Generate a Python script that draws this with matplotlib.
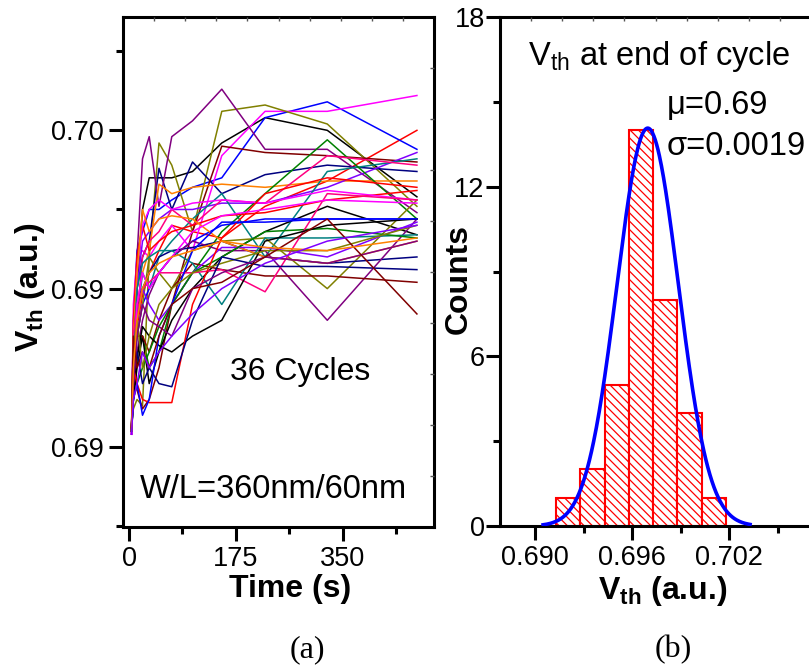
import numpy as np
import matplotlib.pyplot as plt

plt.rcParams['font.family'] = 'Liberation Sans'
plt.rcParams['mathtext.fontset'] = 'custom'
plt.rcParams['mathtext.rm'] = 'Liberation Sans'
plt.rcParams['mathtext.it'] = 'Liberation Sans:italic'
plt.rcParams['mathtext.bf'] = 'Liberation Sans:bold'
plt.rcParams['hatch.linewidth'] = 0.9

# (a) Vth vs time, 36 cycles
time_s = [4, 7, 13, 22, 33, 49, 70, 104, 152, 223, 325, 472]
vth = [
    [0.6906, 0.6920, 0.6950, 0.6975, 0.6985, 0.6985, 0.6985, 0.6987, 0.6996, 0.7004, 0.7000, 0.6979],
    [0.6905, 0.6925, 0.6938, 0.6948, 0.6955, 0.6962, 0.6970, 0.6968, 0.6966, 0.6976, 0.6984, 0.7000],
    [0.6904, 0.6940, 0.6962, 0.6968, 0.6975, 0.6975, 0.6978, 0.6982, 0.6985, 0.7004, 0.7009, 0.6994],
    [0.6904, 0.6945, 0.6960, 0.6962, 0.6960, 0.6965, 0.6970, 0.6962, 0.6992, 0.7006, 0.7006, 0.7011],
    [0.6906, 0.6912, 0.6915, 0.6913, 0.6960, 0.6996, 0.6989, 0.6968, 0.7006, 0.7008, 0.7002, 0.6976],
    [0.6905, 0.6935, 0.6950, 0.6960, 0.6965, 0.6988, 0.6975, 0.6990, 0.6980, 0.6986, 0.6989, 0.6987],
    [0.6905, 0.6925, 0.6960, 0.6991, 0.6998, 0.6976, 0.6998, 0.7003, 0.7013, 0.6994, 0.6994, 0.6974],
    [0.6906, 0.6930, 0.6918, 0.6912, 0.6915, 0.6925, 0.6945, 0.6968, 0.6995, 0.6993, 0.6992, 0.6990],
    [0.6905, 0.6925, 0.6945, 0.6955, 0.6962, 0.6983, 0.6980, 0.6982, 0.6983, 0.6982, 0.6984, 0.6984],
    [0.6905, 0.6930, 0.6950, 0.6965, 0.6968, 0.6972, 0.6975, 0.6975, 0.6977, 0.6977, 0.6982, 0.6993],
    [0.6906, 0.6935, 0.6940, 0.6955, 0.6950, 0.6960, 0.6965, 0.6972, 0.6980, 0.6960, 0.6987, 0.6991],
    [0.6905, 0.6915, 0.6930, 0.6935, 0.6925, 0.6930, 0.6945, 0.6955, 0.6968, 0.6980, 0.6997, 0.6972],
    [0.6904, 0.6925, 0.6940, 0.6960, 0.6965, 0.6968, 0.6975, 0.6970, 0.6978, 0.6977, 0.6992, 0.6989],
    [0.6905, 0.6915, 0.6925, 0.6935, 0.6920, 0.6930, 0.6940, 0.6950, 0.6960, 0.6968, 0.6976, 0.6967],
    [0.6906, 0.6940, 0.6960, 0.6970, 0.6962, 0.6965, 0.6968, 0.6970, 0.6973, 0.6974, 0.6978, 0.6981],
    [0.6905, 0.6920, 0.6935, 0.6945, 0.6950, 0.6955, 0.6960, 0.6965, 0.6970, 0.6972, 0.6972, 0.6972],
    [0.6904, 0.6930, 0.6955, 0.6970, 0.6975, 0.6978, 0.6975, 0.6977, 0.6978, 0.6977, 0.6981, 0.6978],
    [0.6906, 0.6925, 0.6935, 0.6945, 0.6960, 0.6955, 0.6950, 0.6962, 0.6965, 0.6966, 0.6950, 0.6978],
    [0.6905, 0.6930, 0.6945, 0.6950, 0.6955, 0.6960, 0.6962, 0.6963, 0.6965, 0.6960, 0.6958, 0.6960],
    [0.6905, 0.6920, 0.6930, 0.6940, 0.6948, 0.6955, 0.6960, 0.6965, 0.6962, 0.6962, 0.6940, 0.6972],
    [0.6906, 0.6928, 0.6935, 0.6935, 0.6930, 0.6940, 0.6950, 0.6958, 0.6956, 0.6954, 0.6954, 0.6952],
    [0.6905, 0.6935, 0.6955, 0.6975, 0.6968, 0.6972, 0.6973, 0.6972, 0.6965, 0.6960, 0.6958, 0.6965],
    [0.6904, 0.6925, 0.6940, 0.6950, 0.6945, 0.6940, 0.6945, 0.6955, 0.6963, 0.6963, 0.6960, 0.6971],
    [0.6905, 0.6930, 0.6950, 0.6958, 0.6960, 0.6962, 0.6962, 0.6958, 0.6945, 0.6966, 0.6966, 0.6967],
    [0.6905, 0.6915, 0.6920, 0.6925, 0.6930, 0.6938, 0.6945, 0.6955, 0.6960, 0.6968, 0.6969, 0.6966],
    [0.6904, 0.6935, 0.6945, 0.6950, 0.6952, 0.6955, 0.6955, 0.6955, 0.6956, 0.6949, 0.6980, 0.6978],
    [0.6905, 0.6915, 0.6928, 0.6938, 0.6935, 0.6932, 0.6930, 0.6935, 0.6940, 0.6965, 0.6970, 0.6972],
    [0.6906, 0.6925, 0.6920, 0.6915, 0.6914, 0.6914, 0.6914, 0.6945, 0.6966, 0.6980, 0.6985, 0.6982],
    [0.6905, 0.6915, 0.6920, 0.6910, 0.6915, 0.6935, 0.6945, 0.6962, 0.6971, 0.6971, 0.6972, 0.6972],
    [0.6904, 0.6920, 0.6945, 0.6955, 0.6950, 0.6955, 0.6960, 0.6968, 0.6973, 0.6975, 0.6978, 0.6977],
    [0.6905, 0.6930, 0.6940, 0.6925, 0.6935, 0.6945, 0.6950, 0.6955, 0.6958, 0.6962, 0.6962, 0.6970],
    [0.6905, 0.6925, 0.6930, 0.6920, 0.6925, 0.6920, 0.6919, 0.6940, 0.6960, 0.6957, 0.6957, 0.6956],
    [0.6905, 0.6920, 0.6935, 0.6945, 0.6940, 0.6938, 0.6935, 0.6950, 0.6955, 0.6960, 0.6958, 0.6965],
    [0.6906, 0.6935, 0.6925, 0.6930, 0.6925, 0.6935, 0.6945, 0.6950, 0.6952, 0.6960, 0.6972, 0.6942],
    [0.6905, 0.6925, 0.6940, 0.6950, 0.6955, 0.6958, 0.6960, 0.6962, 0.6965, 0.6963, 0.6962, 0.6966],
    [0.6904, 0.6915, 0.6920, 0.6930, 0.6925, 0.6930, 0.6935, 0.6942, 0.6950, 0.6958, 0.6965, 0.6970],
]
line_colors = ['#000000', '#FF0000', '#0000FF', '#FF00FF', '#808000', '#000080', '#800080',
               '#800000', '#FF8000', '#8000FF', '#008080', '#008000', '#FF0080']
a_xticks = [0, 175, 350]
a_yticks = [0.690, 0.695, 0.700]
a_yticklabels = ['0.69', '0.69', '0.70']

# (b) histogram of Vth at end of cycle + gaussian fit
hist_edges = [0.6913, 0.6928, 0.6943, 0.6958, 0.6973, 0.6988, 0.7003, 0.7018]
hist_counts = [1, 2, 5, 14, 8, 4, 1]
fit_mu = 0.69697
fit_sigma = 0.0019
fit_peak = 14.07
fit_span = (0.6905, 0.7033)
b_xticks = [0.690, 0.696, 0.702]
b_xticklabels = ['0.690', '0.696', '0.702']
b_yticks = [0, 6, 12, 18]

fig = plt.figure(figsize=(8.09, 6.69), dpi=100)
ax1 = fig.add_axes([123/809, 142/669, 311/809, 510/669])
ax2 = fig.add_axes([500/809, 143/669, 311/809, 509/669])

for i, row in enumerate(vth):
    ax1.plot(time_s, row, color=line_colors[i % len(line_colors)], lw=1.1)

ax1.set_xlim(-10, 500)
ax1.set_ylim(0.68747, 0.70358)
ax1.set_xticks(a_xticks)
ax1.set_xticks([87.5, 262.5, 437.5], minor=True)
ax1.set_yticks(a_yticks)
ax1.set_yticklabels(a_yticklabels)
ax1.set_yticks([0.6875, 0.6925, 0.6975, 0.7025], minor=True)
ax1.set_xlabel('Time (s)', fontsize=23, fontweight='bold')
ax1.set_ylabel(r'$\mathbf{V_{th}}$ (a.u.)', fontsize=23, fontweight='bold')
ax1.xaxis.set_label_coords(0.537, -0.093)
ax1.yaxis.set_label_coords(-0.245, 0.47)
ax1.text(0.344, 0.288, '36 Cycles', transform=ax1.transAxes, fontsize=23)
ax1.text(0.055, 0.057, 'W/L=360nm/60nm', transform=ax1.transAxes, fontsize=23.5)

edges = np.array(hist_edges)
ax2.bar(edges[:-1], hist_counts, width=np.diff(edges), align='edge', color='white',
        edgecolor='#FF0000', linewidth=1.5, hatch='\\\\\\\\', zorder=2)
xf = np.linspace(fit_span[0], fit_span[1], 300)
ax2.plot(xf, fit_peak * np.exp(-0.5 * ((xf - fit_mu) / fit_sigma) ** 2), color='#0000FF', lw=2.6, zorder=3)
ax2.set_xlim(0.687835, 0.707068)
ax2.set_ylim(0, 18)
ax2.set_xticks(b_xticks)
ax2.set_xticklabels(b_xticklabels)
ax2.set_xticks([0.693, 0.699, 0.705], minor=True)
ax2.set_yticks(b_yticks)
ax2.set_yticks([3, 9, 15], minor=True)
ax2.set_xlabel(r'$\mathbf{V_{th}}$ (a.u.)', fontsize=23, fontweight='bold')
ax2.set_ylabel('Counts', fontsize=23, fontweight='bold')
ax2.xaxis.set_label_coords(0.524, -0.095)
ax2.yaxis.set_label_coords(-0.085, 0.485)
ax2.text(0.51, 0.906, r'V$_{\rm th}$ at end of cycle', transform=ax2.transAxes, fontsize=23.5, ha='center')
ax2.text(0.537, 0.809, 'μ=0.69', transform=ax2.transAxes, fontsize=23.5)
ax2.text(0.537, 0.729, 'σ=0.0019', transform=ax2.transAxes, fontsize=23.5)

for ax in (ax1, ax2):
    for sp in ax.spines.values():
        sp.set_linewidth(2.2)
    ax.tick_params(which='major', direction='out', length=10, width=2.2, labelsize=19.5, pad=4)
    ax.tick_params(which='minor', direction='out', length=5, width=2.2)
    ax.tick_params(top=False, right=False)
    top = ax.twiny()
    top.set_xlim(0, 10)
    top.set_xticks(range(1, 10))
    top.tick_params(direction='in', length=3, width=1, colors='#555555', labeltop=False)
    for sp in top.spines.values():
        sp.set_visible(False)

ax2.tick_params(axis='y', which='major', pad=1)

rt = ax1.twinx()
rt.set_ylim(0, 10)
rt.set_yticks(range(1, 10))
rt.tick_params(direction='in', length=3, width=1, colors='#555555', labelright=False)
for sp in rt.spines.values():
    sp.set_visible(False)

fig.text(307/809, 1 - 650/669, '(a)', family='Liberation Serif', fontsize=23, ha='center', va='center')
fig.text(673/809, 1 - 650/669, '(b)', family='Liberation Serif', fontsize=23, ha='center', va='center')

fig.savefig('out.png', dpi=100)
